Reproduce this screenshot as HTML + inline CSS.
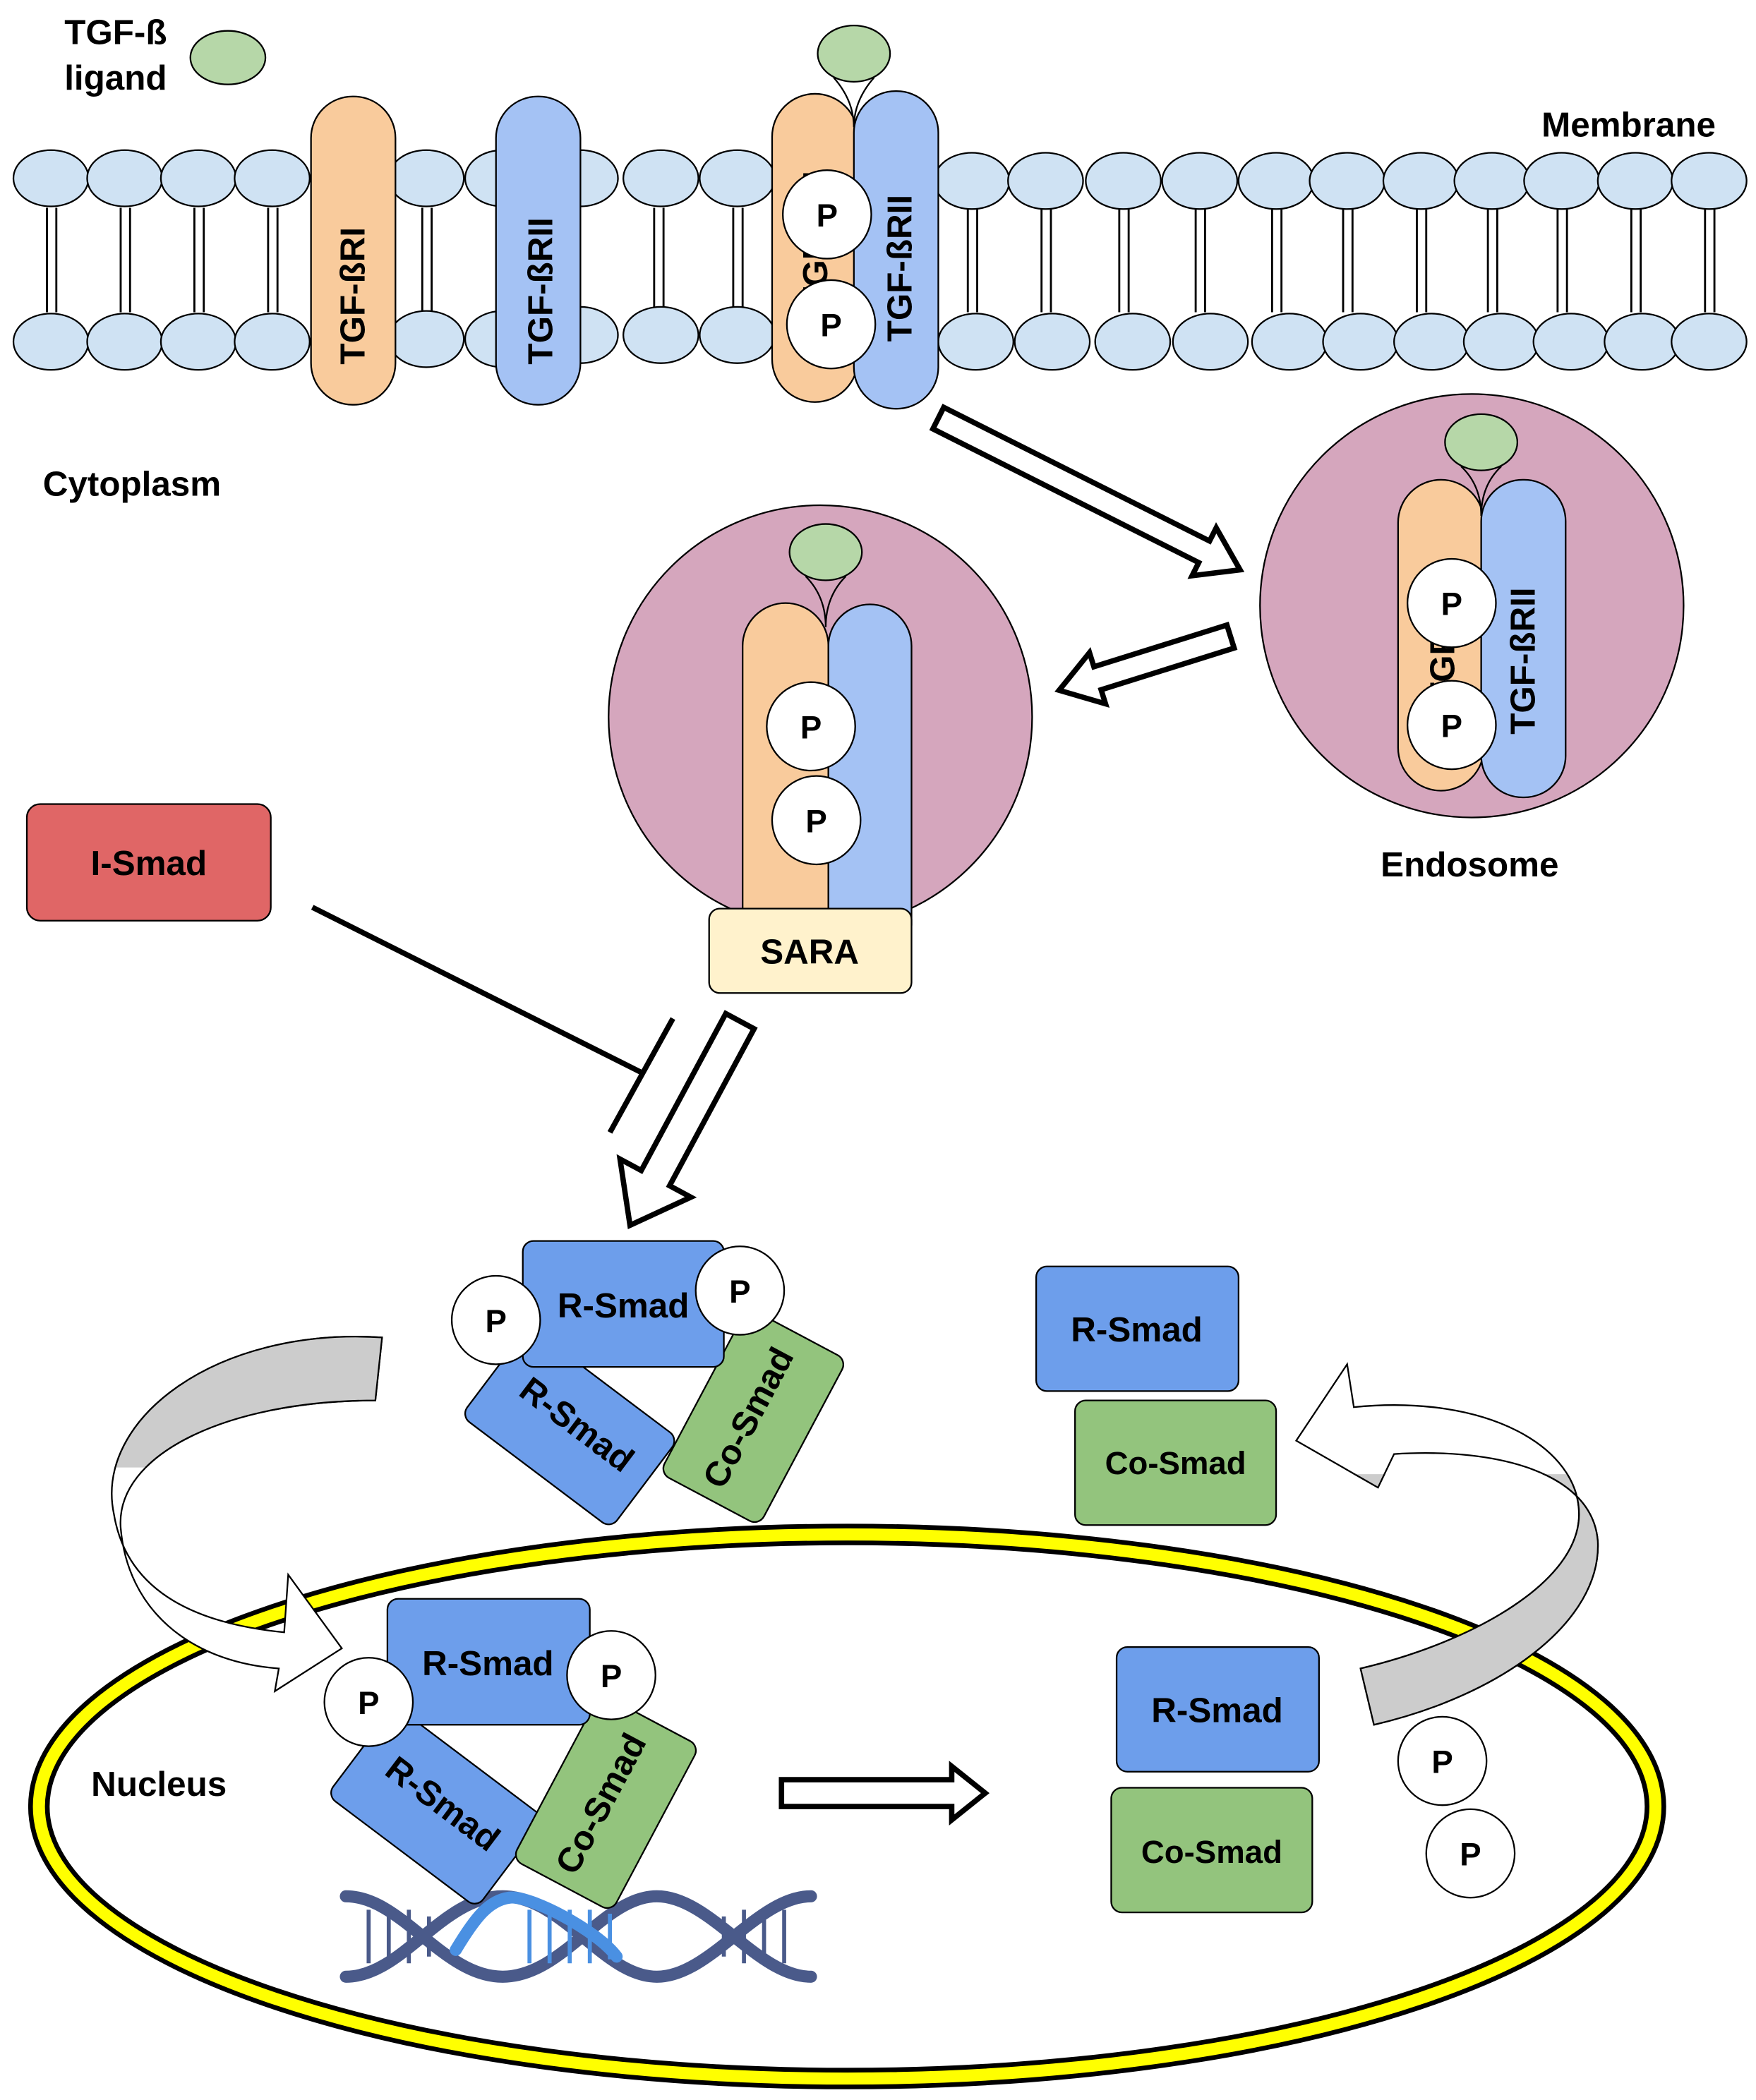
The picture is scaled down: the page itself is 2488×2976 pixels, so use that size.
<!DOCTYPE html>
<html><head><meta charset="utf-8"><style>html,body{margin:0;padding:0;background:#fff}svg{display:block}text{font-family:"Liberation Sans",Arial,sans-serif;font-weight:bold;fill:#000}</style></head><body>
<svg width="2488" height="2976" viewBox="0 0 1310 1567" xmlns="http://www.w3.org/2000/svg">
<defs>
<clipPath id="cl1"><rect x="0" y="0" width="1310" height="1095"/></clipPath>
<clipPath id="cr1"><rect x="1000" y="1100" width="310" height="300"/></clipPath>
</defs>
<g stroke="#000" stroke-width="1.2">
<g stroke-width="1.5">
<path d="M35,155V233M42,155V233M90,155V233M97,155V233M145,155V233M152,155V233M200,155V233M207,155V233M315,155V233M322,155V233M488,155V233M495,155V233M547,155V233M554,155V233M722,155V233M729,155V233M777,155V233M784,155V233M835,155V233M842,155V233M892,155V233M899,155V233M949,155V233M956,155V233M1002,155V233M1009,155V233M1057,155V233M1064,155V233M1110,155V233M1117,155V233M1162,155V233M1169,155V233M1217,155V233M1224,155V233M1272,155V233M1279,155V233"/>
</g>
<g fill="#cfe2f3">
<ellipse cx="38" cy="133" rx="28" ry="21"/><ellipse cx="93" cy="133" rx="28" ry="21"/><ellipse cx="148" cy="133" rx="28" ry="21"/><ellipse cx="203" cy="133" rx="28" ry="21"/><ellipse cx="318" cy="133" rx="28" ry="21"/><ellipse cx="375" cy="133" rx="28" ry="21"/><ellipse cx="433" cy="133" rx="28" ry="21"/><ellipse cx="493" cy="133" rx="28" ry="21"/><ellipse cx="550" cy="133" rx="28" ry="21"/><ellipse cx="725" cy="135" rx="28" ry="21"/><ellipse cx="780" cy="135" rx="28" ry="21"/><ellipse cx="838" cy="135" rx="28" ry="21"/><ellipse cx="895" cy="135" rx="28" ry="21"/><ellipse cx="952" cy="135" rx="28" ry="21"/><ellipse cx="1005" cy="135" rx="28" ry="21"/><ellipse cx="1060" cy="135" rx="28" ry="21"/><ellipse cx="1113" cy="135" rx="28" ry="21"/><ellipse cx="1165" cy="135" rx="28" ry="21"/><ellipse cx="1220" cy="135" rx="28" ry="21"/><ellipse cx="1275" cy="135" rx="28" ry="21"/>
<ellipse cx="38" cy="255" rx="28" ry="21"/><ellipse cx="93" cy="255" rx="28" ry="21"/><ellipse cx="148" cy="255" rx="28" ry="21"/><ellipse cx="203" cy="255" rx="28" ry="21"/><ellipse cx="318" cy="253" rx="28" ry="21"/><ellipse cx="375" cy="253" rx="28" ry="21"/><ellipse cx="433" cy="250" rx="28" ry="21"/><ellipse cx="493" cy="250" rx="28" ry="21"/><ellipse cx="550" cy="250" rx="28" ry="21"/><ellipse cx="728" cy="255" rx="28" ry="21"/><ellipse cx="785" cy="255" rx="28" ry="21"/><ellipse cx="845" cy="255" rx="28" ry="21"/><ellipse cx="903" cy="255" rx="28" ry="21"/><ellipse cx="962" cy="255" rx="28" ry="21"/><ellipse cx="1015" cy="255" rx="28" ry="21"/><ellipse cx="1068" cy="255" rx="28" ry="21"/><ellipse cx="1120" cy="255" rx="28" ry="21"/><ellipse cx="1172" cy="255" rx="28" ry="21"/><ellipse cx="1225" cy="255" rx="28" ry="21"/><ellipse cx="1275" cy="255" rx="28" ry="21"/>
</g>
<rect x="232" y="72" width="63" height="230" rx="31" fill="#f9cb9c"/>
<rect x="370" y="72" width="63" height="230" rx="31" fill="#a4c2f4"/>
<rect x="576" y="70" width="64" height="230" rx="32" fill="#f9cb9c"/>
<rect x="637" y="68" width="63" height="237" rx="31" fill="#a4c2f4"/>
<path d="M622,58 Q637,75 637,95 Q637,75 652,58" fill="none"/>
<ellipse cx="637" cy="40" rx="27" ry="21" fill="#b6d7a8"/>
<ellipse cx="170" cy="43" rx="28" ry="20" fill="#b6d7a8"/>
</g>
<text transform="translate(272,272) rotate(-90)" font-size="26">TGF-ßRI</text>
<text transform="translate(412,272) rotate(-90)" font-size="26">TGF-ßRII</text>
<text transform="translate(680,255) rotate(-90)" font-size="26">TGF-ßRII</text>
<text transform="translate(617,230) rotate(-90)" font-size="26">TGF-ßRI</text>
<g stroke="#000" stroke-width="1.2" fill="#fff"><circle cx="617" cy="160" r="33"/><circle cx="620" cy="242" r="33"/></g>
<text x="617" y="169" font-size="24" text-anchor="middle">P</text><text x="620" y="251" font-size="24" text-anchor="middle">P</text>
<text x="48" y="33" font-size="26">TGF-ß</text><text x="48" y="67" font-size="26">ligand</text>
<text x="1150" y="102" font-size="26">Membrane</text>
<text x="32" y="370" font-size="26">Cytoplasm</text>
<text x="1030" y="654" font-size="26">Endosome</text>
<text x="68" y="1340" font-size="26">Nucleus</text>

<g stroke="#000" stroke-width="1.2">
<circle cx="1098" cy="452" r="158" fill="#d5a6bd"/>
<rect x="1043" y="358" width="64" height="232" rx="32" fill="#f9cb9c"/>
<rect x="1105" y="358" width="63" height="237" rx="31" fill="#a4c2f4"/>
<path d="M1090,348 Q1105,362 1105,385 Q1105,362 1120,348" fill="none"/>
<ellipse cx="1105" cy="330" rx="27" ry="21" fill="#b6d7a8"/>
</g>
<text transform="translate(1145,548) rotate(-90)" font-size="26">TGF-ßRII</text>
<text transform="translate(1085,525) rotate(-90)" font-size="26">TGF-ßRI</text>
<g stroke="#000" stroke-width="1.2" fill="#fff"><circle cx="1083" cy="450" r="33"/><circle cx="1083" cy="541" r="33"/></g>
<text x="1083" y="459" font-size="24" text-anchor="middle">P</text><text x="1083" y="550" font-size="24" text-anchor="middle">P</text>

<g stroke="#000" stroke-width="1.2">
<circle cx="612" cy="535" r="158" fill="#d5a6bd"/>
<path d="M554,690 V482 a32,32 0 0 1 64,0 V690 Z" fill="#f9cb9c"/>
<path d="M618,690 V482 a31,31 0 0 1 62,0 V690 Z" fill="#a4c2f4"/>
<path d="M601,430 Q616,445 616,468 Q616,445 631,430" fill="none"/>
<ellipse cx="616" cy="412" rx="27" ry="21" fill="#b6d7a8"/>
<rect x="529" y="678" width="151" height="63" rx="8" fill="#fff2cc"/>
<circle cx="605" cy="542" r="33" fill="#fff"/><circle cx="609" cy="612" r="33" fill="#fff"/>
</g>
<text x="605" y="551" font-size="24" text-anchor="middle">P</text><text x="609" y="621" font-size="24" text-anchor="middle">P</text>
<text x="604" y="719" font-size="26" text-anchor="middle">SARA</text>

<g fill="#fff" stroke="#000" stroke-width="4" stroke-linejoin="miter">
<polygon transform="translate(700,312) rotate(26.7)" points="0,-9 222,-9 222,-20 252,0 222,20 222,9 0,9"/>
<polygon transform="translate(918,475) rotate(162.6)" points="0,-9 104,-9 104,-20 134,0 104,20 104,9 0,9"/>
<polygon transform="translate(552,762) rotate(118.3)" points="0,-12 133,-12 133,-30 173,0 133,30 133,12 0,12"/>
<polygon transform="translate(583,1338) rotate(0)" points="0,-10 127,-10 127,-20 152,0 127,20 127,10 0,10"/>
</g>

<rect x="20" y="600" width="182" height="87" rx="10" fill="#e06666" stroke="#000" stroke-width="1.2"/>
<text x="111" y="653" font-size="26" text-anchor="middle">I-Smad</text>
<g stroke="#000" stroke-width="4"><line x1="233" y1="677" x2="478" y2="800"/><line x1="455" y1="845" x2="502" y2="760"/></g>

<g stroke="#000" stroke-width="1.2">
<g transform="translate(425,1065) rotate(37)"><rect x="-70" y="-42" width="140" height="84" rx="8" fill="#6d9eeb"/></g>
<g transform="translate(562,1057) rotate(-62)"><rect x="-70" y="-42" width="140" height="84" rx="8" fill="#93c47d"/></g>
<rect x="390" y="926" width="150" height="94" rx="8" fill="#6d9eeb"/>
<circle cx="370" cy="985" r="33" fill="#fff"/><circle cx="552" cy="963" r="33" fill="#fff"/>
</g>
<text transform="translate(425,1070) rotate(37)" font-size="26" text-anchor="middle">R-Smad</text>
<text transform="translate(566,1062) rotate(-62)" font-size="26" text-anchor="middle">Co-Smad</text>
<text x="465" y="983" font-size="26" text-anchor="middle">R-Smad</text>
<text x="370" y="994" font-size="24" text-anchor="middle">P</text><text x="552" y="972" font-size="24" text-anchor="middle">P</text>

<g stroke="#000" stroke-width="1.2">
<rect x="773" y="945" width="151" height="93" rx="8" fill="#6d9eeb"/>
<rect x="802" y="1045" width="150" height="93" rx="8" fill="#93c47d"/>
</g>
<text x="848" y="1001" font-size="26" text-anchor="middle">R-Smad</text>
<text x="877" y="1100" font-size="24" text-anchor="middle">Co-Smad</text>

<ellipse cx="632" cy="1348" rx="603" ry="203" fill="none" stroke="#000" stroke-width="16"/>
<ellipse cx="632" cy="1348" rx="603" ry="203" fill="none" stroke="#ffff00" stroke-width="9"/>

<g stroke="#000" stroke-width="1.2">
<path d="M285,998 C160,990 70,1060 85,1130 C95,1190 150,1212 212,1218 L215,1175 L255,1230 L205,1262 L208,1245 C140,1240 95,1200 90,1140 C86,1085 170,1045 280,1045 Z" fill="#fff"/>
<path clip-path="url(#cl1)" d="M285,998 C160,990 70,1060 85,1130 C95,1190 150,1212 212,1218 L215,1175 L255,1230 L205,1262 L208,1245 C140,1240 95,1200 90,1140 C86,1085 170,1045 280,1045 Z" fill="#cccccc"/>
<path d="M1025,1287 C1120,1265 1195,1210 1192,1150 C1188,1100 1120,1080 1040,1085 L1028,1110 L967,1075 L1005,1018 L1010,1050 C1110,1040 1178,1080 1178,1130 C1178,1180 1100,1225 1015,1245 Z" fill="#fff"/>
<path clip-path="url(#cr1)" d="M1025,1287 C1120,1265 1195,1210 1192,1150 C1188,1100 1120,1080 1040,1085 L1028,1110 L967,1075 L1005,1018 L1010,1050 C1110,1040 1178,1080 1178,1130 C1178,1180 1100,1225 1015,1245 Z" fill="#cccccc"/>
</g>

<g fill="none" stroke-width="9" stroke-linecap="round">
<path d="M258,1415 C300,1415 330,1475 375,1475 S450,1415 490,1415 S565,1475 605,1475" stroke="#4a5a8a"/>
<path d="M258,1475 C300,1475 330,1415 375,1415 S450,1475 490,1475 S565,1415 605,1415" stroke="#4a5a8a"/>
<path d="M340,1455 C355,1430 365,1418 380,1416 S445,1440 460,1460" stroke="#4a90e2"/>
</g>
<g stroke-width="3">
<path d="M275,1425V1465M290,1425V1465M305,1425V1465M320,1430V1460M555,1425V1465M570,1425V1465M585,1425V1465M540,1430V1460" stroke="#4a5a8a"/>
<path d="M395,1425V1465M410,1425V1465M425,1425V1465M440,1425V1465M455,1428V1462" stroke="#4a90e2"/>
</g>

<g stroke="#000" stroke-width="1.2">
<g transform="translate(325,1348) rotate(37)"><rect x="-70" y="-42" width="140" height="84" rx="8" fill="#6d9eeb"/></g>
<g transform="translate(452,1345) rotate(-62)"><rect x="-70" y="-42" width="140" height="84" rx="8" fill="#93c47d"/></g>
<rect x="289" y="1193" width="151" height="94" rx="8" fill="#6d9eeb"/>
<circle cx="275" cy="1270" r="33" fill="#fff"/><circle cx="456" cy="1250" r="33" fill="#fff"/>
</g>
<text transform="translate(325,1353) rotate(37)" font-size="26" text-anchor="middle">R-Smad</text>
<text transform="translate(456,1350) rotate(-62)" font-size="26" text-anchor="middle">Co-Smad</text>
<text x="364" y="1250" font-size="26" text-anchor="middle">R-Smad</text>
<text x="275" y="1279" font-size="24" text-anchor="middle">P</text><text x="456" y="1259" font-size="24" text-anchor="middle">P</text>

<g stroke="#000" stroke-width="1.2">
<rect x="833" y="1229" width="151" height="93" rx="8" fill="#6d9eeb"/>
<rect x="829" y="1334" width="150" height="93" rx="8" fill="#93c47d"/>
<circle cx="1076" cy="1314" r="33" fill="#fff"/><circle cx="1097" cy="1383" r="33" fill="#fff"/>
</g>
<text x="908" y="1285" font-size="26" text-anchor="middle">R-Smad</text>
<text x="904" y="1390" font-size="24" text-anchor="middle">Co-Smad</text>
<text x="1076" y="1323" font-size="24" text-anchor="middle">P</text><text x="1097" y="1392" font-size="24" text-anchor="middle">P</text>
</svg>
</body></html>
